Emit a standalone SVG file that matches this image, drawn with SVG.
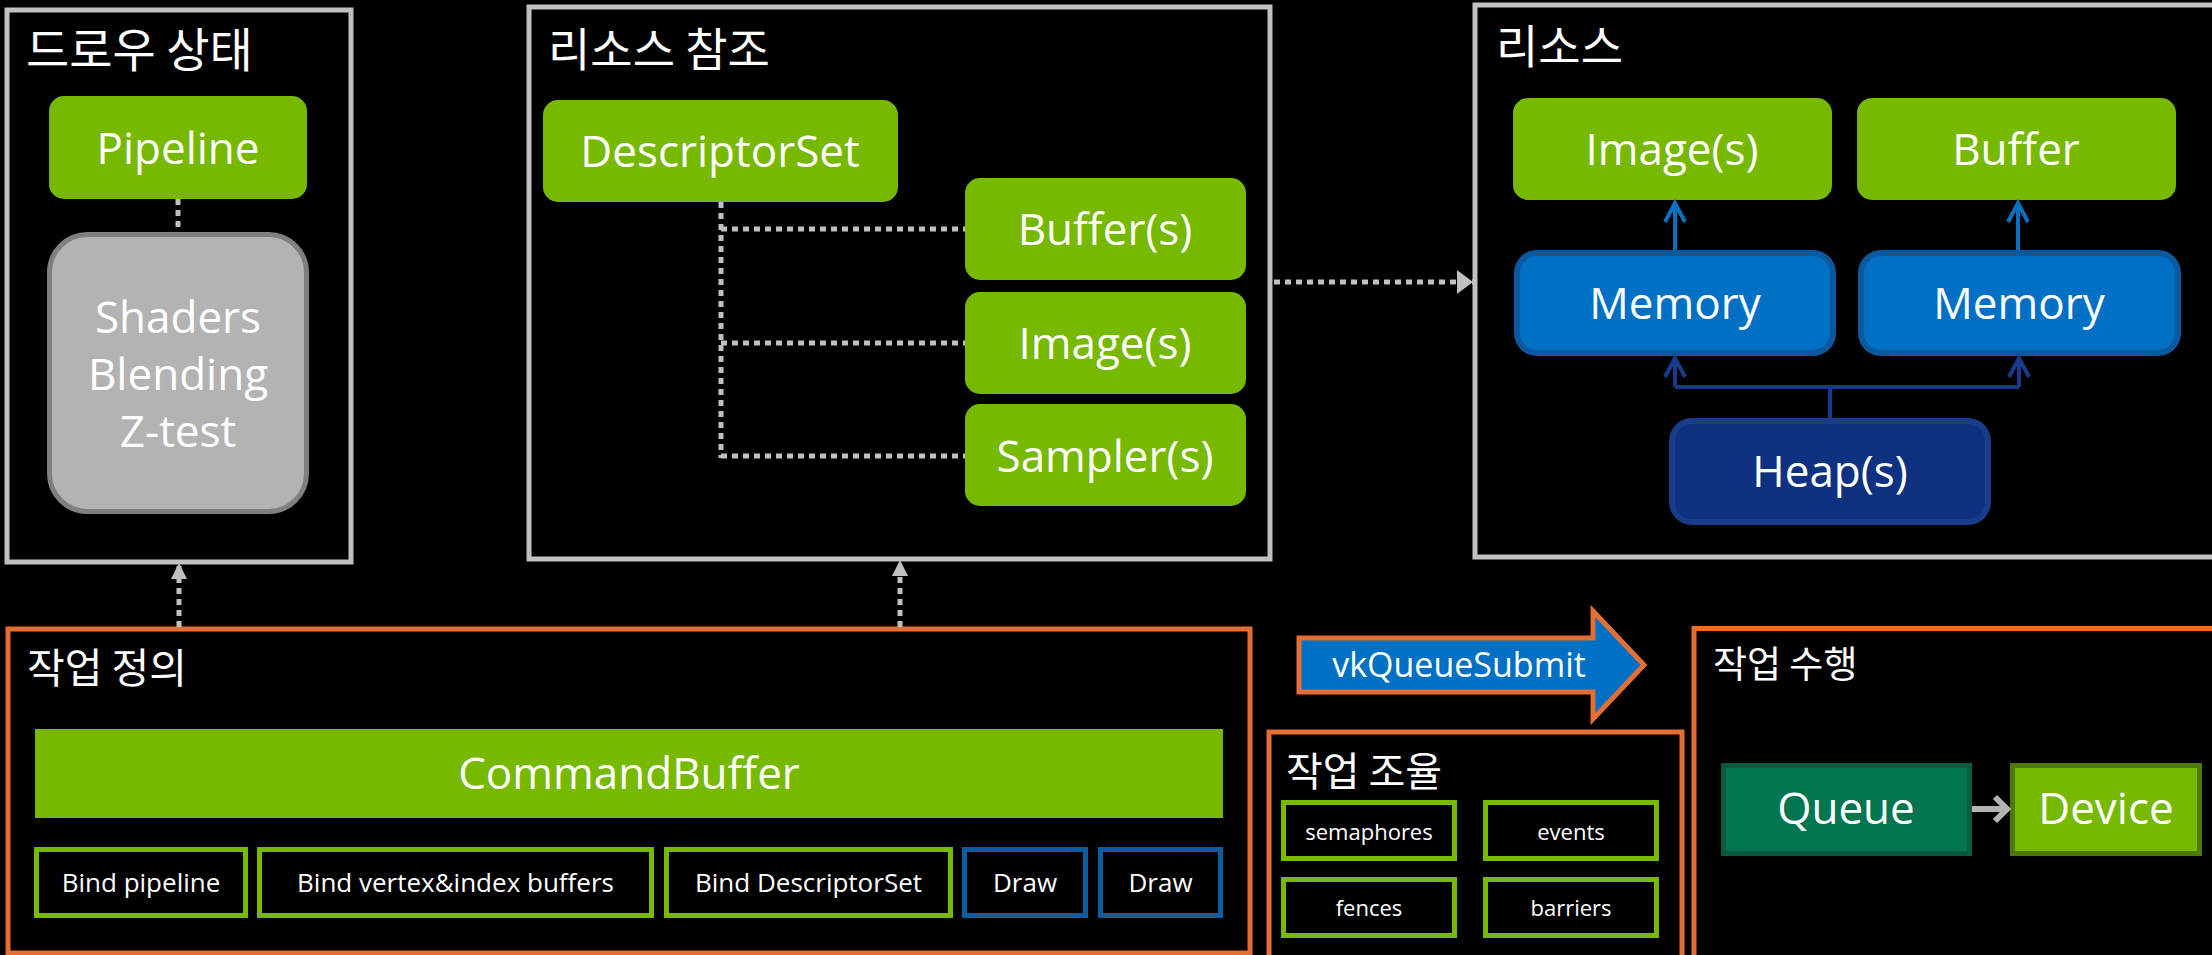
<svg xmlns="http://www.w3.org/2000/svg" width="2212" height="955" viewBox="0 0 2212 955">
  <style>
    .frame { fill: none; stroke: #c0c0c0; stroke-width: 5; }
    .oframe { fill: none; stroke: #e36f35; stroke-width: 5; }
    .green { fill: #76b900; }
    .title { font-family: "Noto Sans CJK KR", "Noto Sans", sans-serif; fill: #ffffff; }
    .lbl { font-family: "Open Sans", "Noto Sans", sans-serif; fill: #ffffff; text-anchor: middle; }
    .big { font-size: 44px; }
    .cmd { font-size: 26px; }
    .sm { font-size: 22px; }
    .gbox { fill: #000000; stroke: #76b900; stroke-width: 5; }
    .bbox { fill: #000000; stroke: #0d5c9e; stroke-width: 5; }
    .dots { fill: none; stroke: #c0c0c0; stroke-width: 5; stroke-dasharray: 6 5; }
    .mem { fill: #0070c4; stroke: #0b589f; stroke-width: 6; }
  </style>
  <defs>
    <marker id="tri" viewBox="0 0 16 24" refX="16" refY="12" markerWidth="16" markerHeight="24" markerUnits="userSpaceOnUse" orient="auto">
      <path d="M0,0 L16,12 L0,24 Z" fill="#c0c0c0"/>
    </marker>
    <marker id="triUp" viewBox="0 0 16 16" refX="16" refY="8" markerWidth="16" markerHeight="16" markerUnits="userSpaceOnUse" orient="auto">
      <path d="M0,0 L16,8 L0,16 Z" fill="#c0c0c0"/>
    </marker>
  </defs>
  <rect width="2212" height="955" fill="#000000"/>

  <!-- draw state -->
  <g id="draw-state">
    <rect class="frame" x="7" y="10" width="344" height="552"/>
    <text class="title" x="26" y="67" font-size="47">드로우 상태</text>
  </g>
  <g id="pipeline">
    <rect class="green" x="49" y="96" width="258" height="103" rx="15"/>
    <text class="lbl big" x="178" y="164">Pipeline</text>
  </g>
  <g id="shaders">
    <rect x="49.5" y="234.5" width="257" height="277" rx="38" fill="#b3b3b3" stroke="#7f7f7f" stroke-width="5"/>
    <text class="lbl big" x="178" y="333">Shaders</text>
    <text class="lbl big" x="178" y="390">Blending</text>
    <text class="lbl big" x="178" y="447">Z-test</text>
  </g>

  <!-- resource references -->
  <g id="resource-refs">
    <rect class="frame" x="529" y="7" width="741" height="552"/>
    <text class="title" x="548" y="66" font-size="46">리소스 참조</text>
  </g>
  <g id="descriptor-set">
    <rect class="green" x="543" y="100" width="355" height="102" rx="15"/>
    <text class="lbl big" x="720" y="167">DescriptorSet</text>
  </g>
  <g id="ref-buffers">
    <rect class="green" x="965" y="178" width="281" height="102" rx="15"/>
    <text class="lbl big" x="1105" y="245">Buffer(s)</text>
  </g>
  <g id="ref-images">
    <rect class="green" x="965" y="292" width="281" height="102" rx="15"/>
    <text class="lbl big" x="1105" y="359">Image(s)</text>
  </g>
  <g id="ref-samplers">
    <rect class="green" x="965" y="404" width="281" height="102" rx="15"/>
    <text class="lbl big" x="1105" y="472">Sampler(s)</text>
  </g>

  <!-- resources -->
  <g id="resources">
    <rect class="frame" x="1475" y="5" width="760" height="552"/>
    <text class="title" x="1496" y="63" font-size="46">리소스</text>
  </g>
  <g id="res-images">
    <rect class="green" x="1513" y="98" width="319" height="102" rx="15"/>
    <text class="lbl big" x="1672" y="165">Image(s)</text>
  </g>
  <g id="res-buffer">
    <rect class="green" x="1857" y="98" width="319" height="102" rx="15"/>
    <text class="lbl big" x="2016" y="165">Buffer</text>
  </g>
  <g id="memory-1">
    <rect class="mem" x="1517" y="253" width="316" height="100" rx="20"/>
    <text class="lbl big" x="1675" y="319">Memory</text>
  </g>
  <g id="memory-2">
    <rect class="mem" x="1861" y="253" width="317" height="100" rx="20"/>
    <text class="lbl big" x="2019" y="319">Memory</text>
  </g>
  <g id="heaps">
    <rect x="1672" y="421" width="316" height="101" rx="20" fill="#0f3181" stroke="#1a3d8a" stroke-width="6"/>
    <text class="lbl big" x="1830" y="487">Heap(s)</text>
  </g>

  <!-- work definition -->
  <g id="work-definition">
    <rect class="oframe" x="8" y="629" width="1242" height="324"/>
    <text class="title" x="27" y="683" font-size="41">작업 정의</text>
  </g>
  <g id="command-buffer">
    <rect class="green" x="35" y="729" width="1188" height="89"/>
    <text class="lbl big" x="629" y="789">CommandBuffer</text>
  </g>
  <g id="cmd-bind-pipeline">
    <rect class="gbox" x="36.5" y="849.5" width="209" height="66"/>
    <text class="lbl cmd" x="141" y="892">Bind pipeline</text>
  </g>
  <g id="cmd-bind-buffers">
    <rect class="gbox" x="259.5" y="849.5" width="392" height="66"/>
    <text class="lbl cmd" x="455.5" y="892">Bind vertex&amp;index buffers</text>
  </g>
  <g id="cmd-bind-descriptors">
    <rect class="gbox" x="666.5" y="849.5" width="284" height="66"/>
    <text class="lbl cmd" x="808.5" y="892">Bind DescriptorSet</text>
  </g>
  <g id="cmd-draw-1">
    <rect class="bbox" x="964.5" y="849.5" width="121" height="66"/>
    <text class="lbl cmd" x="1025" y="892">Draw</text>
  </g>
  <g id="cmd-draw-2">
    <rect class="bbox" x="1100.5" y="849.5" width="120" height="66"/>
    <text class="lbl cmd" x="1160.5" y="892">Draw</text>
  </g>

  <!-- submit -->
  <g id="queue-submit">
    <polygon points="1299,638 1593,638 1593,611 1644,665 1593,719 1593,692 1299,692" fill="#0070c4" stroke="#e36f35" stroke-width="5"/>
    <text class="lbl" x="1459" y="677" font-size="34">vkQueueSubmit</text>
  </g>

  <!-- work synchronisation -->
  <g id="work-sync">
    <rect class="oframe" x="1269" y="732" width="413" height="240"/>
    <text class="title" x="1286" y="786" font-size="40">작업 조율</text>
  </g>
  <g id="sync-semaphores">
    <rect class="gbox" x="1283.5" y="802.5" width="171" height="56"/>
    <text class="lbl sm" x="1369" y="840">semaphores</text>
  </g>
  <g id="sync-events">
    <rect class="gbox" x="1485.5" y="802.5" width="171" height="56"/>
    <text class="lbl sm" x="1571" y="840">events</text>
  </g>
  <g id="sync-fences">
    <rect class="gbox" x="1283.5" y="879.5" width="171" height="56"/>
    <text class="lbl sm" x="1369" y="916">fences</text>
  </g>
  <g id="sync-barriers">
    <rect class="gbox" x="1485.5" y="879.5" width="171" height="56"/>
    <text class="lbl sm" x="1571" y="916">barriers</text>
  </g>

  <!-- work execution -->
  <g id="work-execution">
    <rect class="oframe" x="1694" y="628.5" width="560" height="360"/>
    <text class="title" x="1713" y="678" font-size="37">작업 수행</text>
  </g>
  <g id="queue">
    <rect x="1723.5" y="765.5" width="246" height="88" fill="#00754f" stroke="#0a5a3e" stroke-width="5"/>
    <text class="lbl big" x="1846" y="824">Queue</text>
  </g>
  <g id="device">
    <rect x="2012.5" y="765.5" width="187" height="88" fill="#76b900" stroke="#4d7a00" stroke-width="5"/>
    <text class="lbl big" x="2106" y="824">Device</text>
  </g>

  <!-- connectors -->
  <g id="connectors" fill="none" stroke-linecap="butt">
    <line class="dots" x1="178" y1="199" x2="178" y2="232"/>
    <path class="dots" d="M721,202 V458 M721,229 H965 M721,343 H965 M721,456 H965"/>
    <line class="dots" x1="1274" y1="282" x2="1473" y2="282" marker-end="url(#tri)"/>
    <line class="dots" x1="179" y1="627" x2="179" y2="563" marker-end="url(#triUp)"/>
    <line class="dots" x1="900" y1="627" x2="900" y2="560" marker-end="url(#triUp)"/>
    <g stroke="#0a70c0" stroke-width="4" stroke-linejoin="miter">
      <path d="M1675,250 V204 M1665,222 L1675,203 L1685,222"/>
      <path d="M2018,250 V204 M2008,222 L2018,203 L2028,222"/>
    </g>
    <g stroke="#163b8a" stroke-width="4" stroke-linejoin="miter">
      <path d="M1830,418 V387 M1675,387 H2019 M1675,387 V358 M2019,387 V358"/>
      <path d="M1665,377 L1675,358 L1685,377 M2009,377 L2019,358 L2029,377"/>
    </g>
    <g stroke="#b3b3b3" stroke-width="6">
      <path d="M1972,809 H2006 M1995,797 L2007,809 L1995,821"/>
    </g>
  </g>
</svg>
